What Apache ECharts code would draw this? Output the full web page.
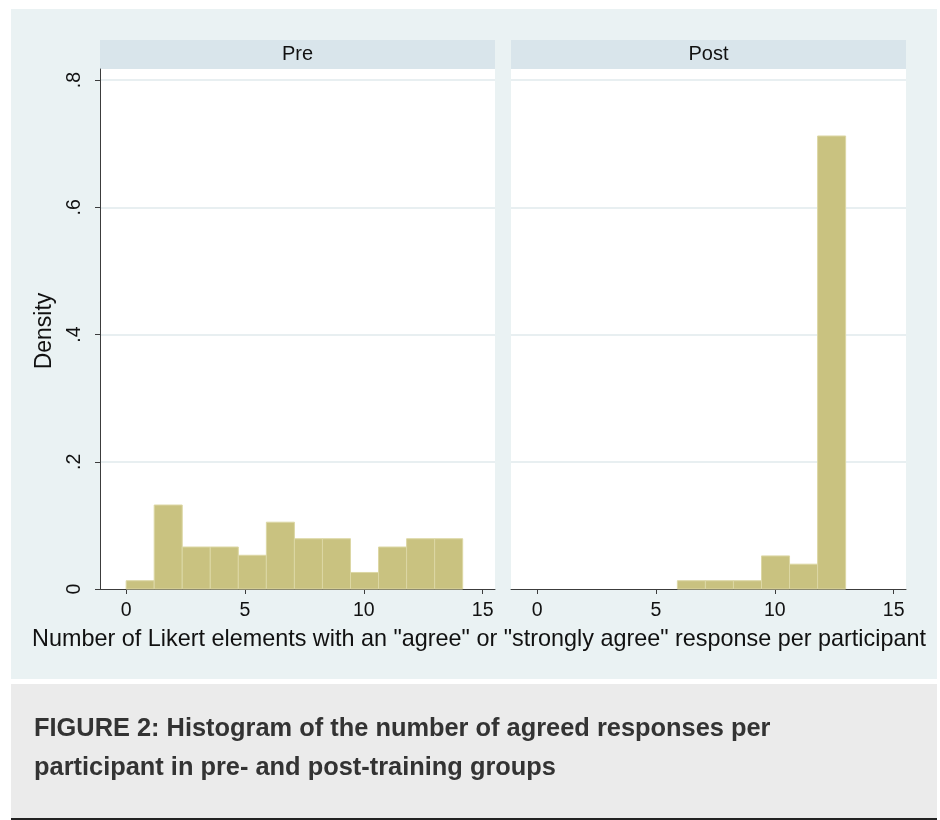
<!DOCTYPE html>
<html><head><meta charset="utf-8">
<script src="https://cdn.jsdelivr.net/npm/echarts@6/dist/echarts.min.js"></script>
<style>html,body{margin:0;padding:0;background:#fff;}#c{width:940px;height:820px;}</style>
</head><body><div id="c"></div>
<script>
// ---- data ----
const panelNames = ['Pre', 'Post'];
const binEdges = [0, 1.18, 2.36, 3.54, 4.72, 5.90, 7.08, 8.26, 9.44, 10.62, 11.80, 12.98, 14.16];
const preDensity  = [0.013, 0.132, 0.066, 0.066, 0.053, 0.105, 0.079, 0.079, 0.026, 0.066, 0.079, 0.079];
const postDensity = [0, 0, 0, 0, 0, 0.013, 0.013, 0.013, 0.052, 0.039, 0.712, 0];
const xTicks = [0, 5, 10, 15];
const yTicks = [0, 0.2, 0.4, 0.6, 0.8];
const xTitle = 'Number of Likert elements with an "agree" or "strongly agree" response per participant';
const yTitle = 'Density';
const captionLines = ['FIGURE 2: Histogram of the number of agreed responses per',
                      'participant in pre- and post-training groups'];

const FONT = '"Liberation Sans", Arial, Helvetica, sans-serif';
const barFill = '#c9c280', barEdge = '#dcd7a4';
const axisCol = '#3c3c3c';

function toRows(dens) {
  return dens.map((d, i) => [binEdges[i], binEdges[i + 1], d]);
}
function renderBar(params, api) {
  const x0 = api.value(0), x1 = api.value(1), y = api.value(2);
  if (!y) return null;
  const p0 = api.coord([x0, y]);
  const p1 = api.coord([x1, 0]);
  return {
    type: 'rect',
    shape: { x: p0[0], y: p0[1], width: p1[0] - p0[0], height: p1[1] - p0[1] },
    style: { fill: barFill, stroke: barEdge, lineWidth: 1 }
  };
}

const grids = [
  { left: 100, top: 69, width: 395, height: 520 },
  { left: 511, top: 69, width: 395, height: 520 }
];

const chart = echarts.init(document.getElementById('c'), null, { renderer: 'canvas' });
const yFmt = v => (Math.abs(v) < 1e-9 ? '0' : v.toFixed(1).replace(/^0/, ''));

const option = {
  animation: false,
  backgroundColor: '#ffffff',
  textStyle: { fontFamily: FONT },
  graphic: [
    { type: 'rect', z: -10, shape: { x: 11, y: 9, width: 926, height: 670 }, style: { fill: '#eaf2f3' } },
    { type: 'rect', z: -10, shape: { x: 100, y: 69, width: 395, height: 520 }, style: { fill: '#ffffff' } },
    { type: 'rect', z: -10, shape: { x: 511, y: 69, width: 395, height: 520 }, style: { fill: '#ffffff' } },
    { type: 'rect', z: -10, shape: { x: 100, y: 40, width: 395, height: 29 }, style: { fill: '#d9e5eb' } },
    { type: 'rect', z: -10, shape: { x: 511, y: 40, width: 395, height: 29 }, style: { fill: '#d9e5eb' } },
    { type: 'text', x: 297.5, y: 54.5, style: { text: panelNames[0], font: '20px ' + FONT, fill: '#111', textAlign: 'center', textVerticalAlign: 'middle' } },
    { type: 'text', x: 708.5, y: 54.5, style: { text: panelNames[1], font: '20px ' + FONT, fill: '#111', textAlign: 'center', textVerticalAlign: 'middle' } },
    { type: 'text', x: 479, y: 640, style: { text: xTitle, font: '23.4px ' + FONT, fill: '#111', textAlign: 'center', textVerticalAlign: 'middle' } },
    { type: 'text', x: 45, y: 331, rotation: Math.PI / 2, style: { text: yTitle, font: '23px ' + FONT, fill: '#111', textAlign: 'center', textVerticalAlign: 'middle' } },
    { type: 'rect', z: -10, shape: { x: 11, y: 684, width: 926, height: 134 }, style: { fill: '#ebebeb' } },
    { type: 'rect', z: -10, shape: { x: 11, y: 818, width: 926, height: 2 }, style: { fill: '#222222' } },
    { type: 'text', x: 34, y: 729, style: { text: captionLines[0], font: 'bold 25.4px ' + FONT, fill: '#333', textAlign: 'left', textVerticalAlign: 'middle' } },
    { type: 'text', x: 34, y: 768, style: { text: captionLines[1], font: 'bold 25.4px ' + FONT, fill: '#333', textAlign: 'left', textVerticalAlign: 'middle' } }
  ],
  grid: grids,
  xAxis: grids.map((g, i) => ({
    type: 'value', gridIndex: i, min: -1.1, max: 15.52,
    axisLine: { show: true, onZero: false, lineStyle: { color: axisCol, width: 1 } },
    axisTick: { show: true, length: 5, customValues: xTicks, lineStyle: { color: axisCol } },
    axisLabel: { show: true, customValues: xTicks, fontSize: 19.5, color: '#111', margin: 12, fontFamily: FONT },
    splitLine: { show: false }
  })),
  yAxis: grids.map((g, i) => ({
    type: 'value', gridIndex: i, min: 0, max: 0.8173, interval: 0.2,
    axisLine: { show: i === 0, onZero: false, lineStyle: { color: axisCol, width: 1 } },
    axisTick: { show: i === 0, length: 5, lineStyle: { color: axisCol } },
    axisLabel: { show: i === 0, rotate: 90, fontSize: 19.5, color: '#111', margin: 15, formatter: yFmt,
                 showMaxLabel: false, fontFamily: FONT },
    splitLine: { show: true, showMinLine: false, showMaxLine: false, lineStyle: { color: '#e8eff1', width: 2 } }
  })),
  series: [
    { type: 'custom', xAxisIndex: 0, yAxisIndex: 0, renderItem: renderBar, data: toRows(preDensity), encode: { x: [0, 1], y: 2 } },
    { type: 'custom', xAxisIndex: 1, yAxisIndex: 1, renderItem: renderBar, data: toRows(postDensity), encode: { x: [0, 1], y: 2 } }
  ]
};
chart.setOption(option);
</script>
</body></html>
